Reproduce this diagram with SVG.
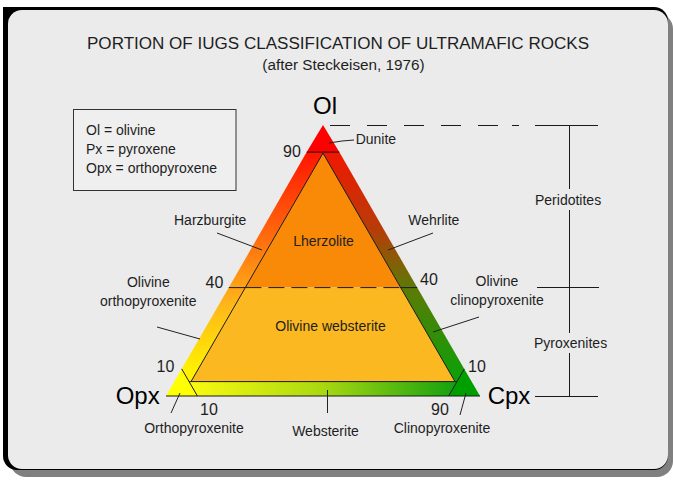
<svg xmlns="http://www.w3.org/2000/svg" width="673" height="481" viewBox="0 0 673 481">
<defs>
<style>
text{font-family:"Liberation Sans",Arial,sans-serif;fill:#1e1e1e}
.lbl{font-size:14px}
.num{font-size:16px}
.vtx{font-size:24px;fill:#000}
.ld{stroke:#222;stroke-width:1;fill:none}
.edge{stroke:#1a1a1a;stroke-width:1;fill:none}
</style>
<linearGradient id="gLeft" gradientUnits="userSpaceOnUse" x1="0" y1="152" x2="0" y2="372">
<stop offset="0" stop-color="#ff1400"/>
<stop offset="0.45" stop-color="#ff7a10"/>
<stop offset="0.7" stop-color="#ffb81a"/>
<stop offset="1" stop-color="#fff200"/>
</linearGradient>
<linearGradient id="gRight" gradientUnits="userSpaceOnUse" x1="0" y1="152" x2="0" y2="372">
<stop offset="0" stop-color="#f01800"/>
<stop offset="0.35" stop-color="#b83c08"/>
<stop offset="0.62" stop-color="#5c7a06"/>
<stop offset="1" stop-color="#129e08"/>
</linearGradient>
<linearGradient id="gBot" gradientUnits="userSpaceOnUse" x1="190" y1="0" x2="457" y2="0">
<stop offset="0" stop-color="#fafa10"/>
<stop offset="0.5" stop-color="#a8d810"/>
<stop offset="1" stop-color="#14a010"/>
</linearGradient>
</defs>

<rect x="0" y="0" width="673" height="481" fill="#ffffff"/>
<g id="frame">
<rect x="10" y="13" width="663" height="464" rx="16" fill="#808080"/>
<rect x="3" y="7" width="665" height="463" rx="14" fill="#000"/>
<rect x="3" y="7" width="24" height="24" fill="#000"/>
<rect x="8" y="10" width="660" height="459" rx="14" fill="#ebebeb"/>
</g>

<g id="title">
<text x="87" y="49" font-size="16" textLength="502" lengthAdjust="spacingAndGlyphs">PORTION OF IUGS CLASSIFICATION OF ULTRAMAFIC ROCKS</text>
<text x="343.5" y="70" font-size="15.3" text-anchor="middle">(after Steckeisen, 1976)</text>
</g>

<g id="legend">
<rect x="73.5" y="109.5" width="162.5" height="81" fill="#efefef" stroke="#333" stroke-width="1"/>
<text class="lbl" x="86" y="135">Ol = olivine</text>
<text class="lbl" x="86" y="154">Px = pyroxene</text>
<text class="lbl" x="86" y="173">Opx = orthopyroxene</text>
</g>

<g id="dunite">
<polygon points="323,125 306.7,152.1 339.3,152.1" fill="#ff0000"/>
<text class="lbl" x="355.7" y="144">Dunite</text>
</g>
<g id="harzburgite">
<polygon points="306.7,152.1 323,152.1 323,153.7 245.4,287.6 228.8,287.6" fill="url(#gLeft)"/>
<text class="lbl" x="174" y="225">Harzburgite</text>
</g>
<g id="wehrlite">
<polygon points="339.3,152.1 323,152.1 323,153.7 400.6,287.6 417.2,287.6" fill="url(#gRight)"/>
<text class="lbl" x="408.3" y="225">Wehrlite</text>
</g>
<g id="lherzolite">
<polygon points="323,153.7 245.4,287.6 400.6,287.6" fill="#f98a08"/>
<text class="lbl" x="323.5" y="246" text-anchor="middle">Lherzolite</text>
</g>
<g id="olivine-websterite">
<polygon points="245.4,287.6 400.6,287.6 455,381.6 191,381.6" fill="#fbb820"/>
<text class="lbl" x="330.5" y="331" text-anchor="middle">Olivine websterite</text>
</g>
<g id="olivine-orthopyroxenite">
<polygon points="228.8,287.6 245.4,287.6 191,381.6 189.1,381.6 181.7,368.9" fill="url(#gLeft)"/>
<text class="lbl" x="148.3" y="287" text-anchor="middle">Olivine</text>
<text class="lbl" x="148.3" y="306" text-anchor="middle">orthopyroxenite</text>
</g>
<g id="olivine-clinopyroxenite">
<polygon points="417.2,287.6 400.6,287.6 455,381.6 456.9,381.6 464.3,368.9" fill="url(#gRight)"/>
<text class="lbl" x="497" y="285.7" text-anchor="middle">Olivine</text>
<text class="lbl" x="497" y="305" text-anchor="middle">clinopyroxenite</text>
</g>
<g id="websterite">
<polygon points="189.1,381.6 197.4,396 448.6,396 456.9,381.6" fill="url(#gBot)"/>
<text class="lbl" x="325.5" y="436" text-anchor="middle">Websterite</text>
</g>
<g id="orthopyroxenite">
<polygon points="166,396 181.7,368.9 197.4,396" fill="#ffff00"/>
<text class="lbl" x="194" y="433" text-anchor="middle">Orthopyroxenite</text>
</g>
<g id="clinopyroxenite">
<polygon points="480,396 464.3,368.9 448.6,396" fill="#009f00"/>
<text class="lbl" x="442" y="433" text-anchor="middle">Clinopyroxenite</text>
</g>

<g id="boundaries">
<line class="edge" x1="306.7" y1="152.1" x2="339.3" y2="152.1"/>
<polyline class="edge" points="191,381.6 323,153.2 455,381.6"/>
<line class="edge" x1="189.1" y1="381.6" x2="456.9" y2="381.6"/>
<line class="edge" x1="181.7" y1="368.9" x2="197.4" y2="396"/>
<line class="edge" x1="464.3" y1="368.9" x2="448.6" y2="396"/>
<line class="edge" x1="166" y1="396" x2="480" y2="396"/>
<line class="edge" x1="228.8" y1="287.6" x2="245.4" y2="287.6"/>
<line class="edge" x1="400.6" y1="287.6" x2="417.2" y2="287.6"/>
<line class="edge" x1="245.4" y1="287.6" x2="400.6" y2="287.6" stroke-dasharray="16,7"/>
</g>

<g id="vertices">
<text class="vtx" x="313" y="114">Ol</text>
<text class="vtx" x="115.7" y="404">Opx</text>
<text class="vtx" x="487.7" y="404">Cpx</text>
</g>

<g id="ticks">
<text class="num" x="283" y="157">90</text>
<text class="num" x="205.5" y="288">40</text>
<text class="num" x="420" y="284.5">40</text>
<text class="num" x="156.5" y="372">10</text>
<text class="num" x="200" y="415">10</text>
<text class="num" x="468" y="372">10</text>
<text class="num" x="431" y="415">90</text>
</g>

<g id="scale">
<line class="edge" x1="330" y1="125.5" x2="598" y2="125.5" stroke-dasharray="20,17,20,17,20,17,20,17,20,14,7,16,63"/>
<line class="edge" x1="569.5" y1="125" x2="569.5" y2="189"/>
<line class="edge" x1="569.5" y1="210" x2="569.5" y2="333"/>
<line class="edge" x1="569.5" y1="353" x2="569.5" y2="397"/>
<line class="edge" x1="537" y1="287.5" x2="599" y2="287.5"/>
<line class="edge" x1="535" y1="396.5" x2="598" y2="396.5"/>
<text class="lbl" x="535" y="205">Peridotites</text>
<text class="lbl" x="534" y="348">Pyroxenites</text>
</g>

<g id="connectors">
<polyline class="ld" points="329,143 342,141 354,140"/>
<line class="ld" x1="217" y1="233" x2="262" y2="250"/>
<line class="ld" x1="433" y1="233" x2="388" y2="250"/>
<line class="ld" x1="157" y1="327" x2="200" y2="339"/>
<line class="ld" x1="479" y1="317" x2="433" y2="332"/>
<line class="ld" x1="171" y1="413" x2="180" y2="393"/>
<line class="ld" x1="327.5" y1="390" x2="327.5" y2="413"/>
<line class="ld" x1="460" y1="415" x2="466" y2="393"/>
</g>
</svg>
